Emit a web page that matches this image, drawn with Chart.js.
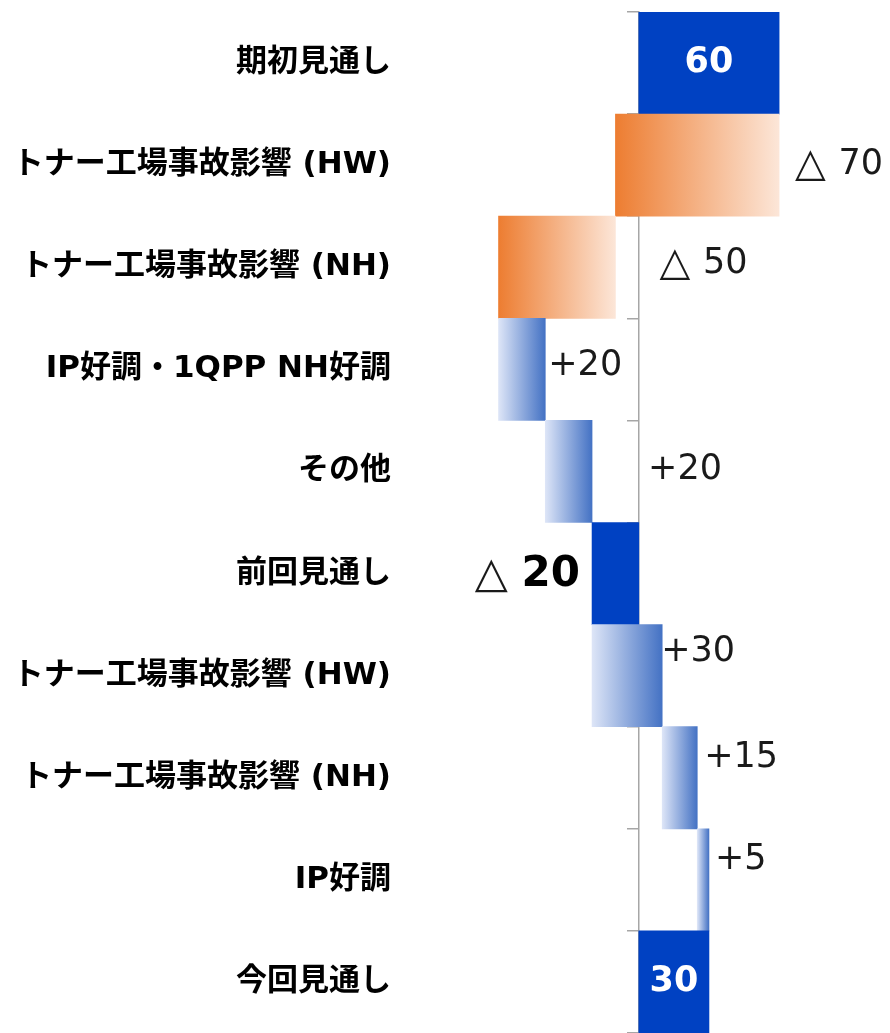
<!DOCTYPE html>
<html lang="ja">
<head>
<meta charset="utf-8">
<script src="https://cdn.jsdelivr.net/npm/chart.js@4.4.1/dist/chart.umd.min.js"></script>
<style>
  html, body { margin: 0; padding: 0; background: #fff; }
  #wrap { width: 890px; height: 1033px; position: relative; }
</style>
</head>
<body>
<div id="wrap"><canvas id="waterfall"></canvas></div>
<script>
// 見通しの増減（単位は元資料どおり）
const categories = [
  '期初見通し',
  'トナー工場事故影響 (HW)',
  'トナー工場事故影響 (NH)',
  'IP好調・1QPP NH好調',
  'その他',
  '前回見通し',
  'トナー工場事故影響 (HW)',
  'トナー工場事故影響 (NH)',
  'IP好調',
  '今回見通し'
];
const barStart = [0, 60, -10, -60, -40, 0, -20, 10, 25, 0];
const barEnd   = [60, -10, -60, -40, -20, -20, 10, 25, 30, 30];
const barKind  = ['total', 'down', 'down', 'up', 'up', 'total', 'up', 'up', 'up', 'total'];
const axisMin = -100;
const axisMax = 107;

const FONT = '"DejaVu Sans", "Noto Sans CJK JP", sans-serif';
const BLUE = '#0041C2';

function labelText(i) {
  const v = barKind[i] === 'total' ? barEnd[i] : barEnd[i] - barStart[i];
  if (v < 0) return { mark: '△ ', num: String(Math.abs(v)) };
  return { mark: barKind[i] === 'total' ? '' : '+', num: String(v) };
}

function fillFor(ctx) {
  const i = ctx.dataIndex;
  const kind = barKind[i];
  if (kind === 'total') return BLUE;
  const chart = ctx.chart;
  const x = chart.scales.x;
  if (!x || !chart.chartArea) return kind === 'down' ? '#F2A273' : '#8FA9DE';
  const a = x.getPixelForValue(Math.min(barStart[i], barEnd[i]));
  const b = x.getPixelForValue(Math.max(barStart[i], barEnd[i]));
  const g = chart.ctx.createLinearGradient(a, 0, b, 0);
  if (kind === 'down') {
    g.addColorStop(0, '#ED7D31');
    g.addColorStop(1, '#FCE6D8');
  } else {
    g.addColorStop(0, '#DDE5F7');
    g.addColorStop(1, '#4472C4');
  }
  return g;
}

const valueLabels = {
  id: 'valueLabels',
  afterDatasetsDraw(chart, args, opts) {
    const c = chart.ctx;
    const meta = chart.getDatasetMeta(0);
    c.save();
    c.textBaseline = 'middle';
    meta.data.forEach((bar, i) => {
      const p = opts.place[i];
      const t = labelText(i);
      const left = Math.min(bar.x, bar.base);
      const right = Math.max(bar.x, bar.base);
      const y = bar.y + (p.dy || 0);
      if (p.at === 'inside') {
        c.font = 'bold 35px ' + FONT;
        c.fillStyle = '#fff';
        c.textAlign = 'center';
        c.fillText(t.mark + t.num, (left + right) / 2, y);
      } else if (p.at === 'right') {
        c.fillStyle = '#1a1a1a';
        c.textAlign = 'left';
        let x = right + p.dx;
        if (t.mark === '△ ') {
          c.font = '40px ' + FONT;
          c.fillText(t.mark, x, y);
          x += c.measureText(t.mark).width;
          c.font = '35px ' + FONT;
          c.fillText(t.num, x, y);
        } else {
          c.font = '35px ' + FONT;
          c.fillText(t.mark + t.num, x, y);
        }
      } else {
        // 左側・数字のみ太字
        c.textAlign = 'right';
        c.fillStyle = '#000';
        c.font = 'bold 42px ' + FONT;
        const end = left - p.dx;
        c.fillText(t.num, end, y);
        const w = c.measureText(t.num).width;
        c.font = '43px ' + FONT;
        c.fillStyle = '#1a1a1a';
        c.fillText(t.mark, end - w, y);
      }
    });
    c.restore();
  }
};

new Chart(document.getElementById('waterfall'), {
  type: 'bar',
  data: {
    labels: categories,
    datasets: [{
      data: categories.map((_, i) => [barStart[i], barEnd[i]]),
      backgroundColor: fillFor,
      borderWidth: 0,
      barPercentage: 1,
      categoryPercentage: 1
    }]
  },
  options: {
    indexAxis: 'y',
    responsive: true,
    maintainAspectRatio: false,
    animation: false,
    layout: { padding: { top: 12, right: 1, bottom: 0, left: 0 } },
    plugins: {
      legend: { display: false },
      tooltip: { enabled: false },
      valueLabels: {
        place: [
          { at: 'inside' },
          { at: 'right', dx: 16 },
          { at: 'right', dx: 44, dy: -3 },
          { at: 'right', dx: 3, dy: -3 },
          { at: 'right', dx: 56, dy: -2 },
          { at: 'left', dx: 12, dy: 2 },
          { at: 'right', dx: -1, dy: -24 },
          { at: 'right', dx: 7, dy: -20 },
          { at: 'right', dx: 6, dy: -20 },
          { at: 'inside' }
        ]
      }
    },
    scales: {
      x: { display: false, min: axisMin, max: axisMax },
      y: {
        grid: { display: false },
        border: { display: false },
        ticks: { color: '#000', padding: 6, font: { family: FONT, size: 31, weight: 'bold' } },
        afterFit: s => { s.width = 405; s.paddingTop = 0; s.paddingBottom = 0; }
      },
      y2: {
        type: 'category',
        axis: 'y',
        position: { x: 0 },
        offset: true,
        grid: { offset: true, drawOnChartArea: false, drawTicks: true, tickLength: 11, color: '#a6a6a6', lineWidth: 1.5 },
        border: { display: true, color: '#a6a6a6', width: 1.5 },
        ticks: { display: false },
        afterFit: s => { s.paddingTop = 0; s.paddingBottom = 0; }
      }
    }
  },
  plugins: [valueLabels]
});
</script>
</body>
</html>
